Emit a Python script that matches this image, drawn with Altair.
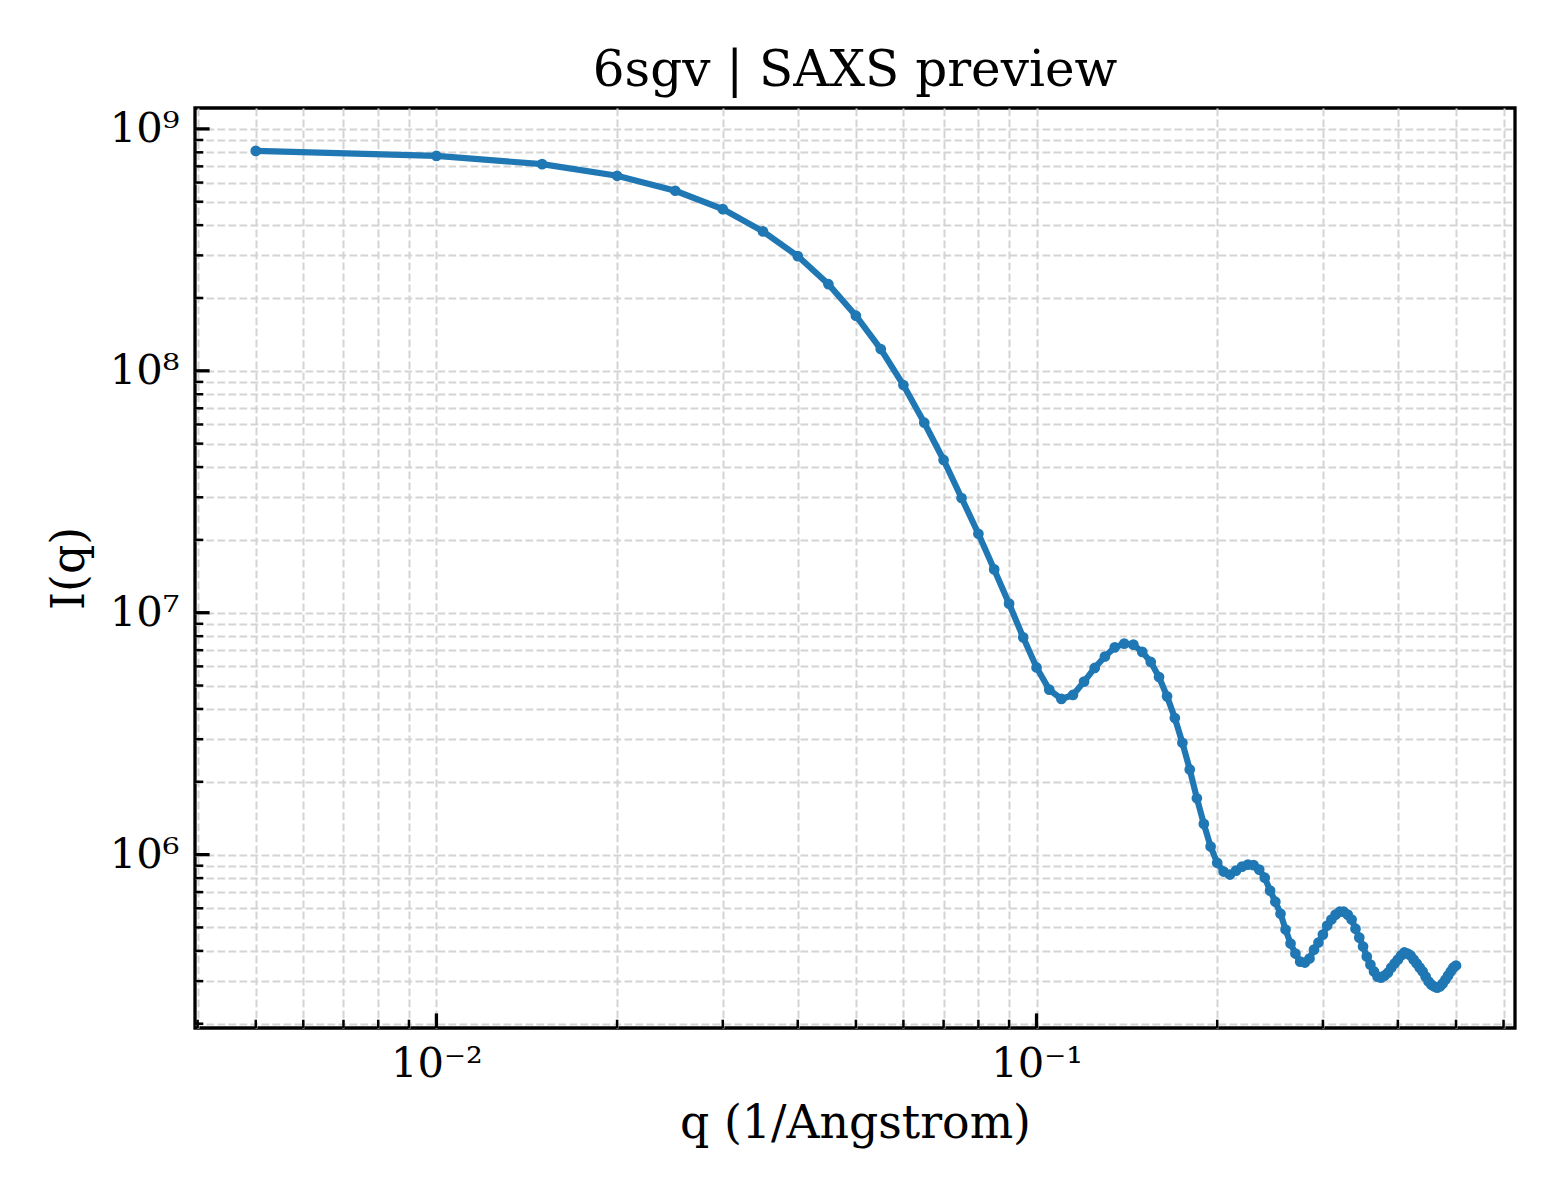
import altair as alt
import pandas as pd

# ---- data ----
q_values = [
    0.005, 0.010, 0.015, 0.020, 0.025, 0.030, 0.035, 0.040, 0.045, 0.050,
    0.055, 0.060, 0.065, 0.070, 0.075, 0.080, 0.085, 0.090, 0.095, 0.100,
    0.105, 0.110, 0.115, 0.120, 0.125, 0.130, 0.135, 0.140, 0.145, 0.150,
    0.155, 0.160, 0.165, 0.170, 0.175, 0.180, 0.185, 0.190, 0.195, 0.200,
    0.205, 0.210, 0.215, 0.220, 0.225, 0.230, 0.235, 0.240, 0.245, 0.250,
    0.255, 0.260, 0.265, 0.270, 0.275, 0.280, 0.285, 0.290, 0.295, 0.300,
    0.305, 0.310, 0.315, 0.320, 0.325, 0.330, 0.335, 0.340, 0.345, 0.350,
    0.355, 0.360, 0.365, 0.370, 0.375, 0.380, 0.385, 0.390, 0.395, 0.400,
    0.405, 0.410, 0.415, 0.420, 0.425, 0.430, 0.435, 0.440, 0.445, 0.450,
    0.455, 0.460, 0.465, 0.470, 0.475, 0.480, 0.485, 0.490, 0.495, 0.500,
]
intensity = [
    8.11e8, 7.73e8, 7.15e8, 6.40e8, 5.55e8, 4.66e8, 3.77e8, 2.98e8, 2.28e8, 1.69e8,
    1.23e8, 8.73e7, 6.10e7, 4.28e7, 2.98e7, 2.12e7, 1.51e7, 1.09e7, 7.91e6, 5.94e6,
    4.81e6, 4.40e6, 4.57e6, 5.19e6, 5.91e6, 6.59e6, 7.19e6, 7.45e6, 7.38e6, 6.89e6,
    6.26e6, 5.42e6, 4.51e6, 3.67e6, 2.90e6, 2.25e6, 1.71e6, 1.34e6, 1.08e6, 9.25e5,
    8.51e5, 8.27e5, 8.59e5, 8.92e5, 9.09e5, 9.05e5, 8.67e5, 8.03e5, 7.10e5, 6.39e5,
    5.70e5, 4.90e5, 4.29e5, 3.90e5, 3.61e5, 3.58e5, 3.72e5, 4.05e5, 4.33e5, 4.67e5,
    5.09e5, 5.39e5, 5.65e5, 5.81e5, 5.81e5, 5.65e5, 5.39e5, 4.94e5, 4.54e5, 4.17e5,
    3.79e5, 3.51e5, 3.29e5, 3.13e5, 3.10e5, 3.16e5, 3.25e5, 3.41e5, 3.55e5, 3.68e5,
    3.83e5, 3.94e5, 3.90e5, 3.83e5, 3.68e5, 3.55e5, 3.41e5, 3.29e5, 3.13e5, 2.99e5,
    2.90e5, 2.85e5, 2.82e5, 2.85e5, 2.93e5, 3.04e5, 3.16e5, 3.29e5, 3.41e5, 3.48e5,
]

x_major_ticks = [0.01, 0.1]
x_major_labels = ["10⁻²", "10⁻¹"]
x_minor_ticks = [0.004, 0.005, 0.006, 0.007, 0.008, 0.009,
                 0.02, 0.03, 0.04, 0.05, 0.06, 0.07, 0.08, 0.09,
                 0.2, 0.3, 0.4, 0.5, 0.6]
y_major_ticks = [1e6, 1e7, 1e8, 1e9]
y_major_labels = ["10⁶", "10⁷", "10⁸", "10⁹"]
y_minor_ticks = [2e5, 3e5, 4e5, 5e5, 6e5, 7e5, 8e5, 9e5,
                 2e6, 3e6, 4e6, 5e6, 6e6, 7e6, 8e6, 9e6,
                 2e7, 3e7, 4e7, 5e7, 6e7, 7e7, 8e7, 9e7,
                 2e8, 3e8, 4e8, 5e8, 6e8, 7e8, 8e8, 9e8]

title_text = "6sgv | SAXS preview"
x_title = "q (1/Angstrom)"
y_title = "I(q)"

# ---- layout / style ----
W, H = 1320, 920
FONT = "DejaVu Serif"
BLUE = "#1f77b4"
GRID = "#d4d4d4"


def label_expr(values, labels):
    expr = "''"
    for v, lab in zip(reversed(values), reversed(labels)):
        expr = f"datum.value == {v!r} ? '{lab}' : ({expr})"
    return expr


xscale = alt.Scale(type="log", domain=[0.00396, 0.627], nice=False)
yscale = alt.Scale(type="log", domain=[1.92e5, 1.22e9], nice=False)

df = pd.DataFrame({"q": q_values, "I": intensity})

x_axis = alt.Axis(
    values=sorted(x_minor_ticks + x_major_ticks),
    labelExpr=label_expr(x_major_ticks, x_major_labels),
    grid=True, gridColor=GRID, gridDash=[7.7, 3.3], gridWidth=2,
    ticks=False, tickSize=0, domain=False,
    labelFont=FONT, labelFontSize=41.7, labelColor="black",
    labelBaseline="alphabetic", labelPadding=48,
    labelOverlap=False, labelFlush=False,
    title=x_title, titleFont=FONT, titleFontSize=45.8, titleFontWeight="normal",
    titleColor="black", titleX=W / 2, titleY=109, titleBaseline="alphabetic",
    titleAlign="center",
)
y_axis = alt.Axis(
    values=sorted(y_minor_ticks + y_major_ticks),
    labelExpr=label_expr(y_major_ticks, y_major_labels),
    grid=True, gridColor=GRID, gridDash=[7.7, 3.3], gridWidth=2,
    ticks=False, tickSize=0, domain=False,
    labelFont=FONT, labelFontSize=41.7, labelColor="black",
    labelBaseline="middle", labelPadding=16,
    labelOverlap=False, labelFlush=False,
    title=y_title, titleFont=FONT, titleFontSize=45.8, titleFontWeight="normal",
    titleColor="black", titleX=-112, titleY=H / 2, titleBaseline="alphabetic",
    titleAlign="center", titleAngle=270,
)

base = alt.Chart(df).encode(
    x=alt.X("q:Q", scale=xscale, axis=x_axis),
    y=alt.Y("I:Q", scale=yscale, axis=y_axis),
)
line = base.mark_line(color=BLUE, strokeWidth=6.2)
points = base.mark_point(filled=True, color=BLUE, size=115, opacity=1)


def xticks(vals, length, width):
    return alt.Chart(pd.DataFrame({"q": vals})).mark_rule(
        color="black", strokeWidth=width
    ).encode(
        x=alt.X("q:Q", scale=xscale, axis=x_axis),
        y=alt.value(H), y2=alt.value(H - length),
    )


def yticks(vals, length, width):
    return alt.Chart(pd.DataFrame({"I": vals})).mark_rule(
        color="black", strokeWidth=width
    ).encode(
        y=alt.Y("I:Q", scale=yscale, axis=y_axis),
        x=alt.value(0), x2=alt.value(length),
    )


chart = alt.layer(
    line, points,
    xticks(x_minor_ticks, 8.3, 2.5), xticks(x_major_ticks, 14.6, 3.3),
    yticks(y_minor_ticks, 8.3, 2.5), yticks(y_major_ticks, 14.6, 3.3),
).properties(
    width=W, height=H,
    background="white",
    autosize=alt.AutoSizeParams(type="none"),
    padding={"left": 187, "top": 100, "right": 30, "bottom": 150},
    title=alt.TitleParams(
        title_text, font=FONT, fontSize=50, fontWeight="normal", color="black",
        anchor="middle", frame="group", baseline="alphabetic", offset=-28,
    ),
).configure_view(
    stroke="black", strokeWidth=3.3
)

chart.save("out.html", embed_options={"renderer": "svg", "actions": False})
